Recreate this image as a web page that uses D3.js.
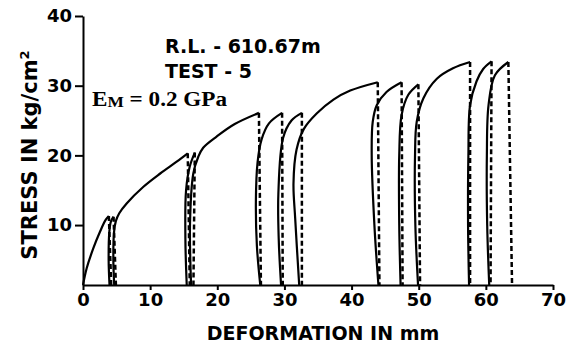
<!DOCTYPE html>
<html>
<head>
<meta charset="utf-8">
<script src="https://cdn.jsdelivr.net/npm/d3@7"></script>
<style>
  html, body { margin: 0; padding: 0; background: #fff; }
  svg { display: block; }
  text { font-family: "DejaVu Sans", sans-serif; font-weight: bold; fill: #000; }
</style>
</head>
<body>
<svg id="chart" width="568" height="347"></svg>
<script>
// ---- data (deformation in mm, stress in kg/cm2) ----
const xTicks = [0, 10, 20, 30, 40, 50, 60, 70];
const yTicks = [10, 20, 30, 40];

// solid loading / reloading curves
const solidCurves = [
  [[0,0],[0.55,3.8],[1.53,6.65],[2.53,9.04],[3.35,10.7],[3.85,11.3]],
  [[3.95,0],[3.82,5],[3.92,9],[4.15,10.5],[4.55,11.2]],
  [[4.65,0],[4.52,5],[4.62,9],[4.9,10.6],[5.4,11.7],[6.5,13.1],[9.0,15.5],[11.5,17.4],[13.95,19.1],[15.6,20.3]],
  [[15.45,0],[15.25,8],[15.35,15],[15.9,18.4],[16.65,20.4]],
  [[16.1,0],[15.94,10.3],[16.43,17.4],[17.17,19.8],[17.9,21.1],[19.9,22.7],[22.6,24.5],[26.2,26.1]],
  [[26.4,0],[25.9,7],[25.75,13.5],[26.0,19],[26.6,22.3],[27.7,24.6],[29.65,26.1]],
  [[29.5,0],[29.15,8],[29.1,14.6],[29.8,22.5],[31.05,25.0],[32.6,26.1]],
  [[32.2,0],[31.6,11],[31.35,16],[31.8,20.8],[32.9,23.8],[34.8,26.0],[37.3,28.0],[39.8,29.3],[43.9,30.5]],
  [[44.0,0],[43.4,10],[43.0,20],[43.15,24.8],[43.75,27.2],[45.2,29.1],[47.45,30.5]],
  [[47.3,0],[47.1,10],[47.1,20],[47.45,25.8],[48.45,28.7],[49.95,30.2]],
  [[49.9,0],[49.5,10],[49.45,20],[49.7,24.8],[50.7,28.2],[52.7,31.0],[55.1,32.5],[57.65,33.4]],
  [[57.5,0],[57.35,10],[57.4,20],[57.65,27.2],[58.6,30.6],[59.6,32.4],[60.85,33.5]],
  [[60.5,0],[60.2,10],[60.15,20],[60.4,27.2],[61.35,31.5],[63.35,33.4]]
];

// dashed unloading lines
const dashedCurves = [
  [[3.85,11.3],[4.2,0]],
  [[4.55,11.2],[4.9,0]],
  [[15.6,20.3],[15.9,0]],
  [[16.65,20.4],[16.45,0]],
  [[26.2,26.1],[26.5,0]],
  [[29.65,26.1],[29.75,0]],
  [[32.6,26.1],[32.6,0]],
  [[43.9,30.5],[44.15,0]],
  [[47.45,30.5],[47.6,0]],
  [[49.95,30.2],[50.2,0]],
  [[57.65,33.4],[57.65,0]],
  [[60.85,33.5],[60.7,0]],
  [[63.35,33.4],[63.9,0]]
];

const xTitle = "DEFORMATION IN mm";
const yTitle = "STRESS IN kg/cm";
const noteLines = ["R.L. - 610.67m", "TEST - 5"];

// ---- drawing ----
const svg = d3.select("#chart");
svg.append("rect").attr("width", 568).attr("height", 347).attr("fill", "#fff");

const x = d3.scaleLinear().domain([0, 70]).range([83, 553]);
const y = d3.scaleLinear().domain([1.4, 40]).range([285, 16]).clamp(true);

const line = d3.line()
  .x(d => x(d[0]))
  .y(d => y(d[1]))
  .curve(d3.curveCatmullRom.alpha(0.5));

const gx = svg.append("g").attr("transform", `translate(0,${y(1.4)})`)
  .call(d3.axisBottom(x).tickValues(xTicks).tickSize(5).tickSizeOuter(0).tickPadding(3));
const gy = svg.append("g").attr("transform", `translate(${x(0)},0)`)
  .call(d3.axisLeft(y).tickValues(yTicks).tickSize(8).tickSizeOuter(0).tickPadding(3));

[gx, gy].forEach(g => {
  g.select(".domain").attr("stroke", "#000").attr("stroke-width", 2);
  g.selectAll(".tick line").attr("stroke", "#000").attr("stroke-width", 2);
  g.selectAll(".tick text")
    .style("font-family", "'DejaVu Sans', sans-serif")
    .style("font-weight", "bold")
    .style("font-size", "18px")
    .attr("fill", "#000");
});

svg.append("g").selectAll("path.solid").data(solidCurves).join("path")
  .attr("class", "solid")
  .attr("d", line)
  .attr("fill", "none").attr("stroke", "#000").attr("stroke-width", 2.2);

svg.append("g").selectAll("path.dash").data(dashedCurves).join("path")
  .attr("class", "dash")
  .attr("d", line)
  .attr("fill", "none").attr("stroke", "#000").attr("stroke-width", 2.5)
  .attr("stroke-dasharray", "5,3");

// axis titles
svg.append("text")
  .attr("x", 323).attr("y", 340)
  .attr("text-anchor", "middle")
  .style("font-size", "19px")
  .text(xTitle);

const yt = svg.append("text")
  .attr("transform", "translate(37,155) rotate(-90)")
  .attr("text-anchor", "middle")
  .style("font-size", "21px");
yt.append("tspan").text(yTitle);
yt.append("tspan").attr("dy", -8).style("font-size", "13px").text("2");

// annotations
svg.selectAll("text.note").data(noteLines).join("text")
  .attr("class", "note")
  .attr("x", 165)
  .attr("y", (d, i) => 53 + i * 24.5)
  .style("font-size", "19px")
  .text(d => d);

const em = svg.append("text")
  .attr("x", 92).attr("y", 106)
  .attr("textLength", 135).attr("lengthAdjust", "spacingAndGlyphs")
  .style("font-family", "'Liberation Serif', 'Times New Roman', serif")
  .style("font-weight", "bold")
  .style("font-size", "20px");
em.append("tspan").text("E");
em.append("tspan").attr("dy", 1).style("font-size", "15px").text("M");
em.append("tspan").attr("dy", -1).text(" = 0.2 GPa");
</script>
</body>
</html>
